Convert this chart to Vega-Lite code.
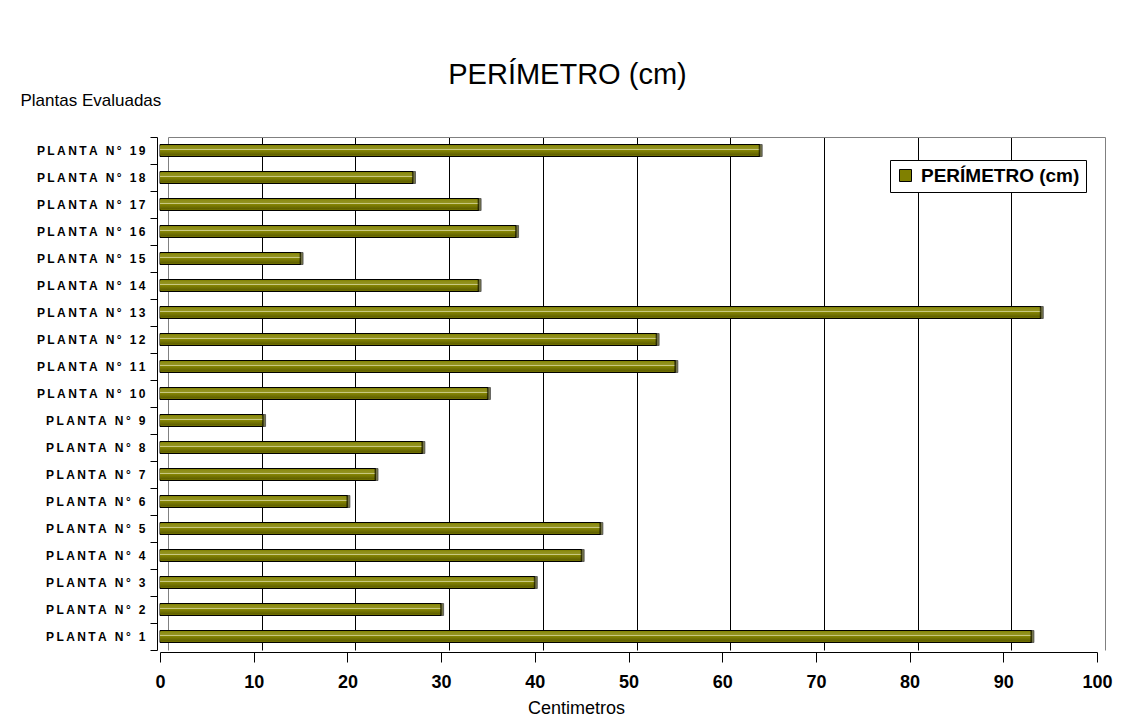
{
  "$schema": "https://vega.github.io/schema/vega-lite/v6.json",
  "width": 937,
  "height": 513,
  "autosize": {"type": "none"},
  "padding": {"left": 160, "top": 137, "right": 37, "bottom": 76},
  "background": "white",
  "title": {
    "text": "PERÍMETRO (cm)",
    "font": "Liberation Sans",
    "fontSize": 29,
    "fontWeight": "normal",
    "color": "black",
    "anchor": "middle",
    "dx": -61,
    "dy": 3
  },
  "config": {"view": {"stroke": null}, "font": "Liberation Sans"},
  "data": {
    "values": [
      {"planta": "PLANTA N° 1", "n": 1, "cm": 93},
      {"planta": "PLANTA N° 2", "n": 2, "cm": 30},
      {"planta": "PLANTA N° 3", "n": 3, "cm": 40},
      {"planta": "PLANTA N° 4", "n": 4, "cm": 45},
      {"planta": "PLANTA N° 5", "n": 5, "cm": 47},
      {"planta": "PLANTA N° 6", "n": 6, "cm": 20},
      {"planta": "PLANTA N° 7", "n": 7, "cm": 23},
      {"planta": "PLANTA N° 8", "n": 8, "cm": 28},
      {"planta": "PLANTA N° 9", "n": 9, "cm": 11},
      {"planta": "PLANTA N° 10", "n": 10, "cm": 35},
      {"planta": "PLANTA N° 11", "n": 11, "cm": 55},
      {"planta": "PLANTA N° 12", "n": 12, "cm": 53},
      {"planta": "PLANTA N° 13", "n": 13, "cm": 94},
      {"planta": "PLANTA N° 14", "n": 14, "cm": 34},
      {"planta": "PLANTA N° 15", "n": 15, "cm": 15},
      {"planta": "PLANTA N° 16", "n": 16, "cm": 38},
      {"planta": "PLANTA N° 17", "n": 17, "cm": 34},
      {"planta": "PLANTA N° 18", "n": 18, "cm": 27},
      {"planta": "PLANTA N° 19", "n": 19, "cm": 64}
    ]
  },
  "encoding": {
    "y": {
      "field": "planta",
      "type": "nominal",
      "sort": {"field": "n", "order": "descending"},
      "scale": {"paddingInner": 0, "paddingOuter": 0},
      "axis": {
        "title": "Plantas Evaluadas",
        "titleAngle": 0,
        "titleAlign": "left",
        "titleBaseline": "middle",
        "titleX": -137,
        "titleY": -37,
        "titleFont": "Liberation Sans",
        "titleFontSize": 17,
        "titleFontWeight": "normal",
        "titleColor": "black",
        "offset": 3,
        "domainColor": "black",
        "tickColor": "black",
        "tickSize": 7,
        "tickBand": "extent",
        "labelPadding": 5,
        "labelFont": "Liberation Sans",
        "labelFontSize": 12,
        "labelFontWeight": "bold",
        "labelColor": "black",
        "labelExpr": "replace(datum.label, /(.)(?=.)/g, '$1\u2009')",
        "grid": false
      }
    }
  },
  "layer": [
    {
      "mark": {"type": "bar", "opacity": 0},
      "encoding": {
        "x": {
          "field": "cm",
          "type": "quantitative",
          "scale": {"domain": [0, 100], "range": [8, 945]},
          "axis": {
            "orient": "top",
            "values": [0, 10, 20, 30, 40, 50, 60, 70, 80, 90, 100],
            "grid": true,
            "gridColor": {"condition": {"test": "datum.value === 0 || datum.value === 100", "value": "#808080"}, "value": "#000000"},
            "gridWidth": 1,
            "labels": false,
            "ticks": false,
            "domain": true,
            "domainColor": "#808080",
            "title": null
          }
        }
      }
    },
    {
      "mark": {"type": "bar", "height": 12, "stroke": "black", "strokeWidth": 1},
      "encoding": {
        "x": {
          "field": "cm",
          "type": "quantitative",
          "scale": {"domain": [0, 100]},
          "axis": {
            "orient": "bottom",
            "offset": 2,
            "grid": false,
            "values": [0, 10, 20, 30, 40, 50, 60, 70, 80, 90, 100],
            "domainColor": "black",
            "tickColor": "black",
            "tickSize": 10,
            "labelPadding": 11,
            "labelFont": "Liberation Sans",
            "labelFontSize": 18,
            "labelFontWeight": "bold",
            "labelColor": "black",
            "labelFlush": false,
            "labelOverlap": false,
            "title": "Centimetros",
            "titleFont": "Liberation Sans",
            "titleFontSize": 18,
            "titleFontWeight": "normal",
            "titleColor": "black",
            "titleX": 416,
            "titleY": 56,
            "titleBaseline": "middle"
          }
        },
        "color": {
          "datum": "PERÍMETRO (cm)",
          "type": "nominal",
          "scale": {"range": ["#808000"]},
          "legend": {
            "title": null,
            "orient": "none",
            "legendX": 730,
            "legendY": 23,
            "padding": 6,
            "strokeColor": "black",
            "fillColor": "white",
            "symbolType": "square",
            "symbolSize": 144,
            "symbolStrokeColor": "black",
            "symbolStrokeWidth": 1,
            "symbolOpacity": 1,
            "labelFont": "Liberation Sans",
            "labelFontSize": 19,
            "labelFontWeight": "bold",
            "labelColor": "black",
            "labelOffset": 6
          }
        }
      }
    },
    {
      "mark": {
        "type": "bar",
        "height": 10,
        "color": {
          "gradient": "linear",
          "x1": 0, "y1": 0, "x2": 0, "y2": 1,
          "stops": [
            {"offset": 0, "color": "#8a8a10"},
            {"offset": 0.3, "color": "#939320"},
            {"offset": 0.4, "color": "#c8c880"},
            {"offset": 0.5, "color": "#838303"},
            {"offset": 1, "color": "#5c5c00"}
          ]
        }
      },
      "encoding": {
        "x": {"field": "cm", "type": "quantitative", "scale": {"domain": [0, 100]}, "axis": null}
      }
    },
    {
      "mark": {"type": "tick", "orient": "vertical", "size": 12, "thickness": 3, "xOffset": 1, "color": "#3c3c00", "stroke": "black", "strokeWidth": 0.8},
      "encoding": {
        "x": {"field": "cm", "type": "quantitative", "scale": {"domain": [0, 100]}, "axis": null}
      }
    }
  ],
  "resolve": {"scale": {"x": "independent"}, "axis": {"x": "independent"}}
}
